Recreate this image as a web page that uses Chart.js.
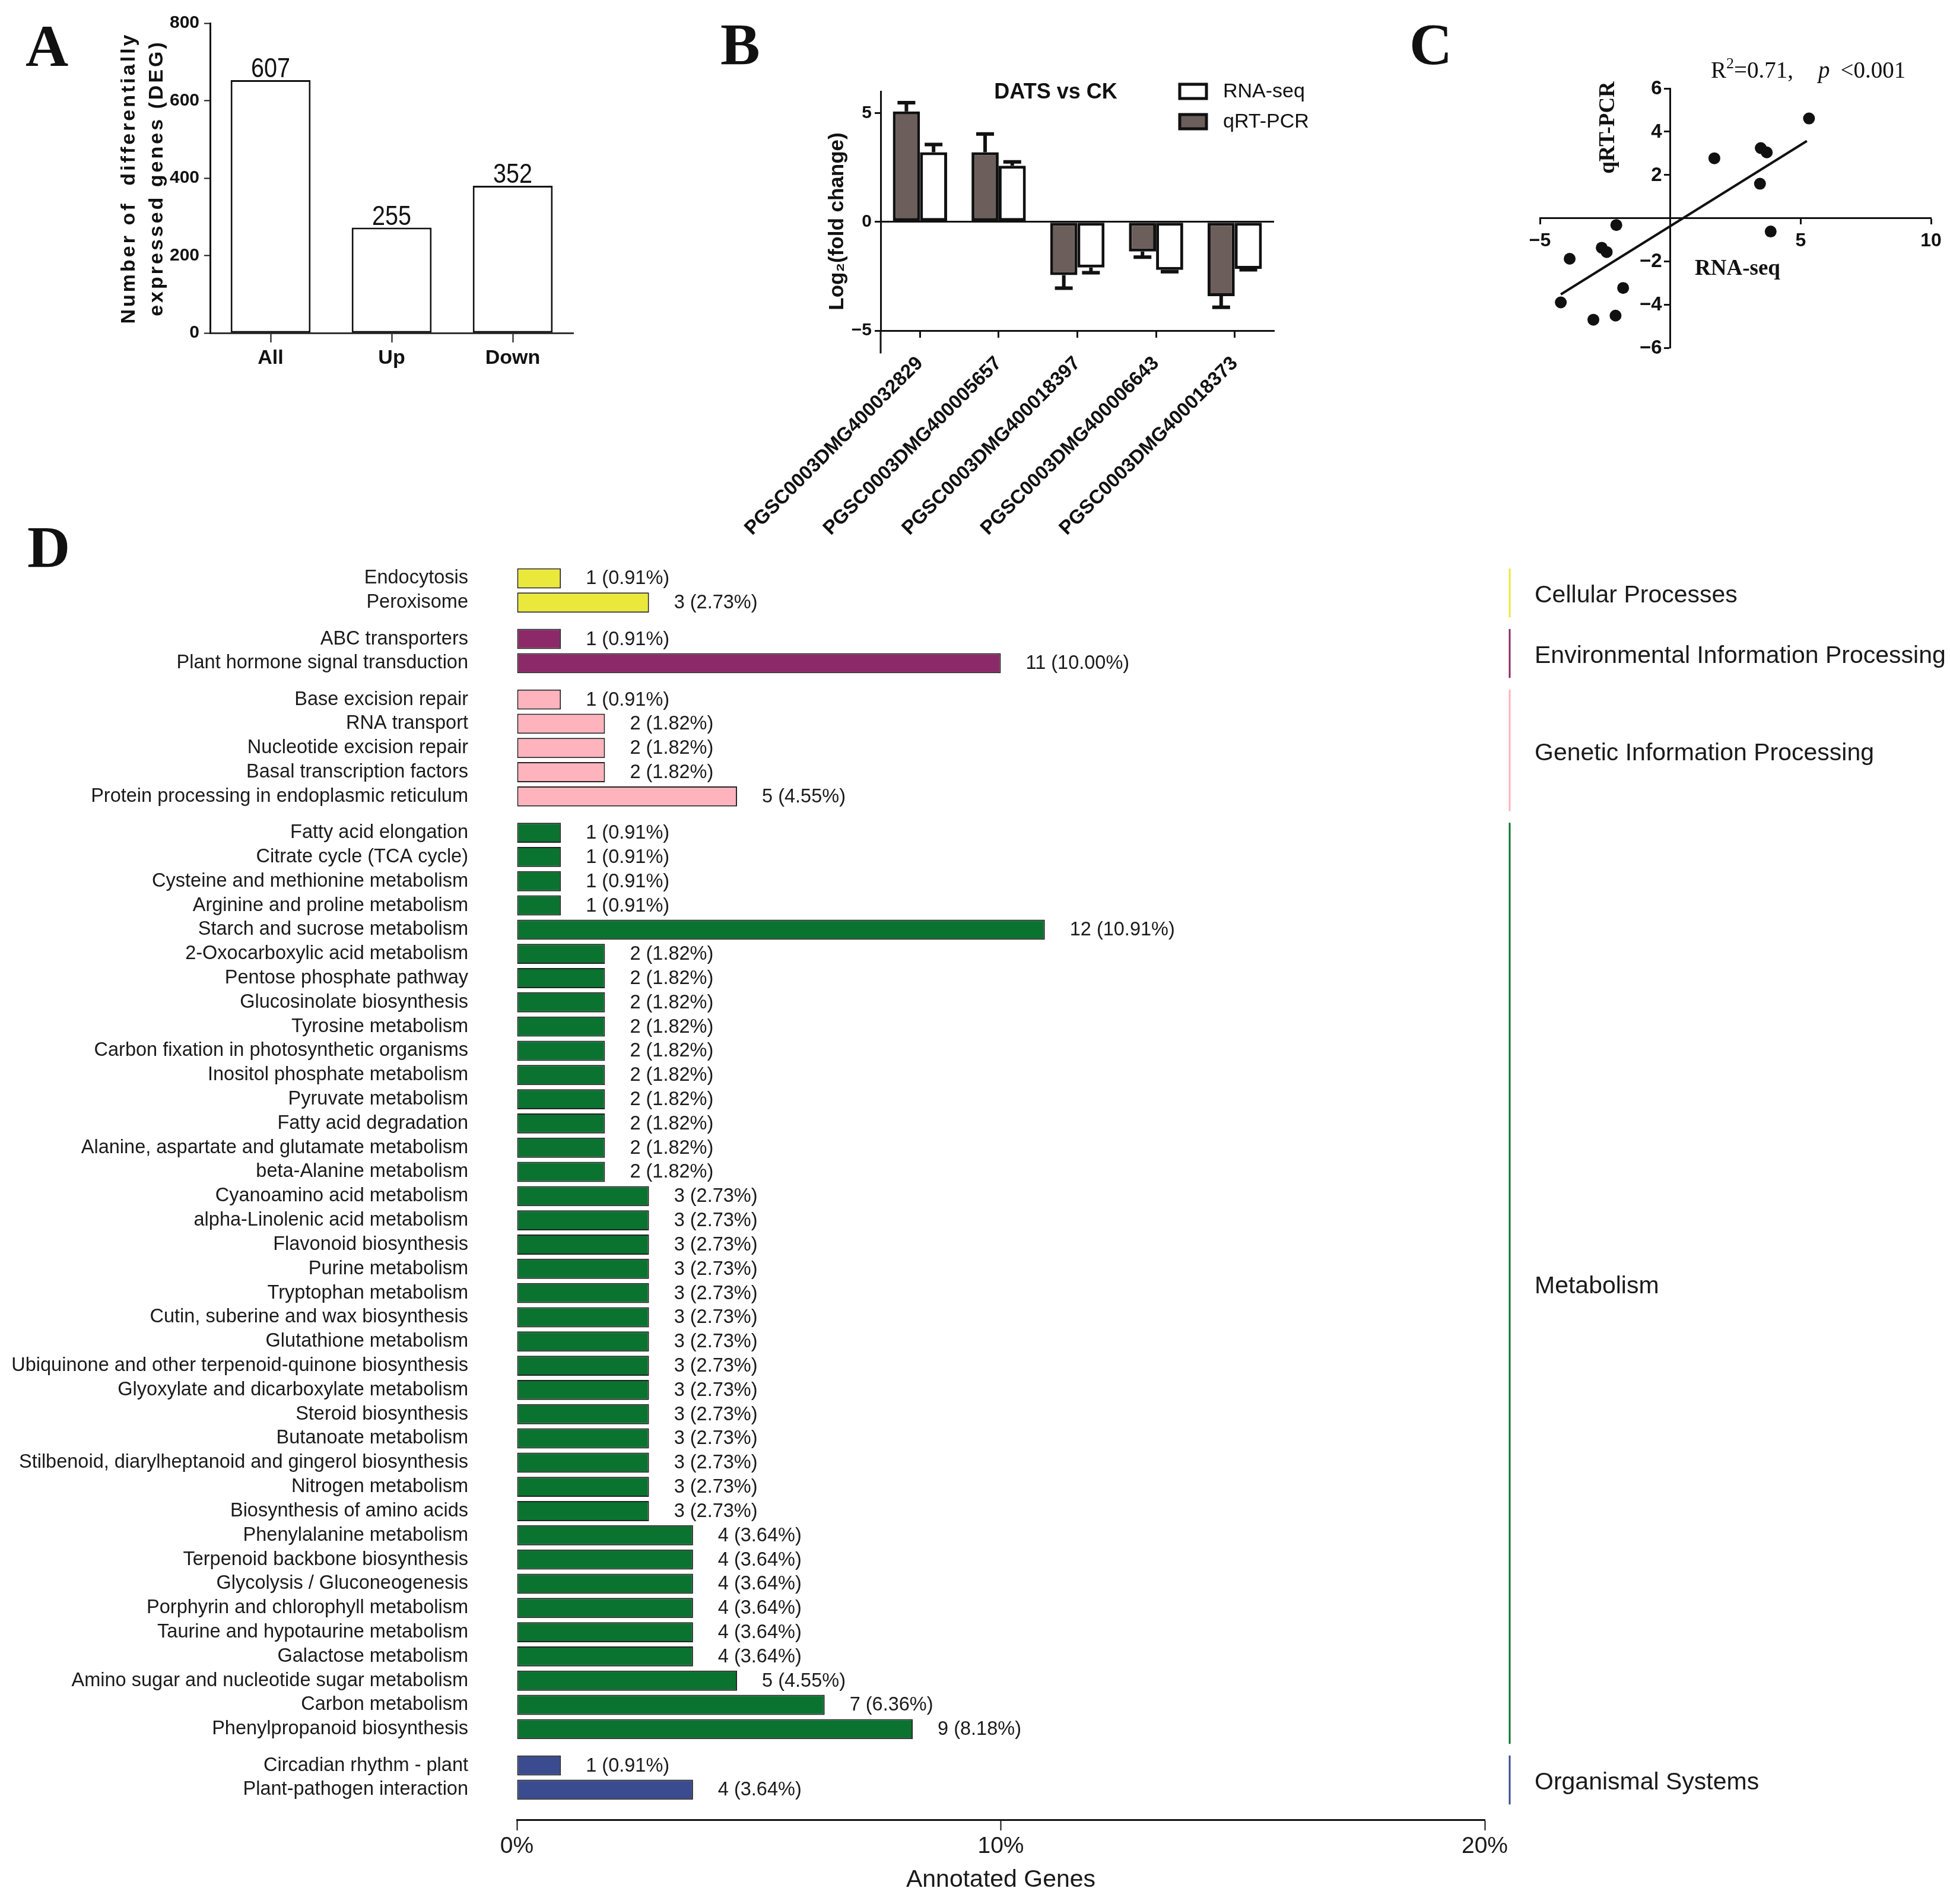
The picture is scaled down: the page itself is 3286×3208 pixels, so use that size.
<!DOCTYPE html>
<html>
<head>
<meta charset="utf-8">
<title>DEG summary, qRT-PCR validation and KEGG annotation</title>
<script src="https://cdn.jsdelivr.net/npm/chart.js"></script>
<style>
  html, body { margin: 0; padding: 0; background: #fff; }
  #page { position: relative; width: 3286px; height: 3208px; overflow: hidden; background: #fff; }
  #page canvas { position: absolute; left: 0; top: 0; }
  .panel-letter { position: absolute; font-family: 'Liberation Serif', 'Times New Roman', serif; font-weight: bold; font-size: 100px; line-height: 1; color: #111; }
  #stats { position: absolute; left: 2883px; top: 98px; font-family: 'Liberation Serif', 'Times New Roman', serif; font-size: 39px; line-height: 1; color: #111; white-space: nowrap; }
  #stats sup { font-size: 26px; vertical-align: 0; position: relative; top: -16px; }
  #stats .gap1 { margin-left: 42px; }
  #stats .gap2 { margin-left: 18px; }
</style>
</head>
<body>
<div id="page">
  <canvas id="chartA" width="3286" height="3208"></canvas>
  <canvas id="chartB" width="3286" height="3208"></canvas>
  <canvas id="chartC" width="3286" height="3208"></canvas>
  <canvas id="chartD" width="3286" height="3208"></canvas>
  <div class="panel-letter" style="left:43px;top:28px">A</div>
  <div class="panel-letter" style="left:1214px;top:25px">B</div>
  <div class="panel-letter" style="left:2375px;top:25px">C</div>
  <div class="panel-letter" style="left:46px;top:872px">D</div>
  <div id="stats">R<sup>2</sup>=0.71,<i class="gap1">p</i><span class="gap2">&lt;0.001</span></div>
</div>
<script>
// ---- panel A: number of DEGs ----
const degCategories = ['All', 'Up', 'Down'];
const degBarHeights = [653, 272, 380];     // bar tops as drawn in the figure
const degLabels = ['607', '255', '352'];    // numbers printed above the bars
const degTicks = [0, 200, 400, 600, 800];

// ---- panel B: RNA-seq vs qRT-PCR ----
const geneIds = ['PGSC0003DMG400032829', 'PGSC0003DMG400005657', 'PGSC0003DMG400018397', 'PGSC0003DMG400006643', 'PGSC0003DMG400018373'];
const qpcrFold = [5.08, 3.20, -2.45, -1.36, -3.42];
const qpcrErr = [0.40, 0.84, 0.60, 0.26, 0.51];
const rnaseqFold = [3.20, 2.58, -2.10, -2.21, -2.16];
const rnaseqErr = [0.36, 0.18, 0.24, 0.08, 0.04];
const foldTicks = [-5, 0, 5];

// ---- panel C: correlation ----
const corrRnaseq = [5.32, 3.47, 3.70, 1.69, 3.44, 3.85, -2.07, -2.63, -2.44, -3.86, -1.81, -4.20, -2.95, -2.10];
const corrQpcr = [4.61, 3.24, 3.04, 2.77, 1.59, -0.62, -0.32, -1.37, -1.57, -1.88, -3.23, -3.90, -4.70, -4.51];
const fitX = [-4.20, 5.24];
const fitY = [-3.53, 3.57];
const corrXTicks = [-5, 0, 5, 10];
const corrYTicks = [-6, -4, -2, 0, 2, 4, 6];

// ---- panel D: KEGG pathways ----
const pathwayGroups = ['Cellular Processes', 'Environmental Information Processing', 'Genetic Information Processing', 'Metabolism', 'Organismal Systems'];
const pathwayNames = [
  'Endocytosis', 'Peroxisome',
  'ABC transporters', 'Plant hormone signal transduction',
  'Base excision repair', 'RNA transport', 'Nucleotide excision repair', 'Basal transcription factors', 'Protein processing in endoplasmic reticulum',
  'Fatty acid elongation', 'Citrate cycle (TCA cycle)', 'Cysteine and methionine metabolism', 'Arginine and proline metabolism',
  'Starch and sucrose metabolism', '2-Oxocarboxylic acid metabolism', 'Pentose phosphate pathway', 'Glucosinolate biosynthesis',
  'Tyrosine metabolism', 'Carbon fixation in photosynthetic organisms', 'Inositol phosphate metabolism', 'Pyruvate metabolism',
  'Fatty acid degradation', 'Alanine, aspartate and glutamate metabolism', 'beta-Alanine metabolism', 'Cyanoamino acid metabolism',
  'alpha-Linolenic acid metabolism', 'Flavonoid biosynthesis', 'Purine metabolism', 'Tryptophan metabolism',
  'Cutin, suberine and wax biosynthesis', 'Glutathione metabolism', 'Ubiquinone and other terpenoid-quinone biosynthesis',
  'Glyoxylate and dicarboxylate metabolism', 'Steroid biosynthesis', 'Butanoate metabolism',
  'Stilbenoid, diarylheptanoid and gingerol biosynthesis', 'Nitrogen metabolism', 'Biosynthesis of amino acids',
  'Phenylalanine metabolism', 'Terpenoid backbone biosynthesis', 'Glycolysis / Gluconeogenesis', 'Porphyrin and chlorophyll metabolism',
  'Taurine and hypotaurine metabolism', 'Galactose metabolism', 'Amino sugar and nucleotide sugar metabolism', 'Carbon metabolism',
  'Phenylpropanoid biosynthesis',
  'Circadian rhythm - plant', 'Plant-pathogen interaction'
];
const pathwayGroup = [
  0, 0,
  1, 1,
  2, 2, 2, 2, 2,
  3, 3, 3, 3, 3, 3, 3, 3, 3, 3, 3, 3, 3, 3, 3, 3, 3, 3, 3, 3, 3, 3, 3, 3, 3, 3, 3, 3, 3, 3, 3, 3, 3, 3, 3, 3, 3, 3,
  4, 4
];
const pathwayCounts = [
  1, 3,
  1, 11,
  1, 2, 2, 2, 5,
  1, 1, 1, 1, 12, 2, 2, 2, 2, 2, 2, 2, 2, 2, 2,
  3, 3, 3, 3, 3, 3, 3, 3, 3, 3, 3, 3, 3, 3,
  4, 4, 4, 4, 4, 4, 5, 7, 9,
  1, 4
];
const pathwayPercents = [
  0.91, 2.73,
  0.91, 10.00,
  0.91, 1.82, 1.82, 1.82, 4.55,
  0.91, 0.91, 0.91, 0.91, 10.91, 1.82, 1.82, 1.82, 1.82, 1.82, 1.82, 1.82, 1.82, 1.82, 1.82,
  2.73, 2.73, 2.73, 2.73, 2.73, 2.73, 2.73, 2.73, 2.73, 2.73, 2.73, 2.73, 2.73, 2.73,
  3.64, 3.64, 3.64, 3.64, 3.64, 3.64, 4.55, 6.36, 8.18,
  0.91, 3.64
];
const percentTicks = [0, 10, 20];

// ---- styles ----
const W = 3286, H = 3208;
const SANS = "'Liberation Sans', Arial, Helvetica, sans-serif";
const SERIF = "'Liberation Serif', 'Times New Roman', serif";
const INK = '#111111';
const TEXT = '#1a1a1a';
const groupColors = ['#ebe83c', '#8c2a69', '#ffb3bd', '#0b7330', '#3b4b90'];
const qpcrColor = '#6b5e5b';

Chart.defaults.font.family = SANS;
Chart.defaults.color = INK;
Chart.defaults.animation = false;
Chart.defaults.responsive = false;
Chart.defaults.devicePixelRatio = 1;
Chart.defaults.events = [];
Chart.defaults.plugins.legend.display = false;
Chart.defaults.plugins.tooltip.enabled = false;

const signed = v => (v < 0 ? '\u2212' + Math.abs(v) : String(v));

function rotatedText(ctx, text, x, y) {
  ctx.save();
  ctx.translate(x, y);
  ctx.rotate(-Math.PI / 2);
  ctx.fillText(text, 0, 0);
  ctx.restore();
}

// ================= A =================
const degPlugin = {
  id: 'degText',
  afterDatasetsDraw(chart) {
    const { ctx } = chart;
    const meta = chart.getDatasetMeta(0);
    ctx.save();
    ctx.fillStyle = INK;
    ctx.font = `46px ${SANS}`;
    ctx.textAlign = 'center';
    ctx.textBaseline = 'alphabetic';
    meta.data.forEach((bar, i) => {
      // the figure uses a condensed face for the counts
      ctx.save();
      ctx.translate(bar.x, bar.y - 5);
      ctx.scale(0.86, 1);
      ctx.fillText(degLabels[i], 0, 0);
      ctx.restore();
    });
    const midY = (chart.chartArea.top + chart.chartArea.bottom) / 2;
    ctx.font = `bold 34px ${SANS}`;
    if ('letterSpacing' in ctx) ctx.letterSpacing = '4px';
    ctx.textBaseline = 'middle';
    rotatedText(ctx, 'Number of  differentially', 218, midY);
    rotatedText(ctx, 'expressed genes (DEG)', 265, midY);
    ctx.restore();
  }
};

new Chart(document.getElementById('chartA'), {
  type: 'bar',
  data: {
    labels: degCategories,
    datasets: [{
      data: degBarHeights,
      backgroundColor: '#ffffff',
      borderColor: INK,
      borderWidth: 3,
      borderSkipped: false,
      barPercentage: 0.66,
      categoryPercentage: 1
    }]
  },
  options: {
    layout: { padding: { left: 0, top: 39, right: W - 966, bottom: H - 561 - 80 } },
    scales: {
      x: {
        grid: { display: true, drawOnChartArea: false, offset: false, tickLength: 16, tickColor: INK, tickWidth: 2 },
        border: { color: '#333', width: 3 },
        ticks: { font: { size: 34, weight: 'bold' }, color: INK, padding: 6 },
        afterFit: s => { s.height = 80; }
      },
      y: {
        min: 0,
        max: 800,
        afterBuildTicks: s => { s.ticks = degTicks.map(v => ({ value: v })); },
        grid: { drawOnChartArea: false, tickLength: 10, tickColor: INK, tickWidth: 2 },
        border: { color: INK, width: 3 },
        ticks: { font: { size: 30, weight: 'bold' }, color: INK, padding: 8 },
        afterFit: s => { s.width = 354; }
      }
    }
  },
  plugins: [degPlugin]
});

// ================= B =================
const foldPlugin = {
  id: 'foldExtras',
  afterDatasetsDraw(chart) {
    const { ctx, chartArea } = chart;
    const yScale = chart.scales.y;
    ctx.save();
    ctx.strokeStyle = INK;
    ctx.lineWidth = 6;
    chart.data.datasets.forEach((ds, di) => {
      chart.getDatasetMeta(di).data.forEach((bar, i) => {
        const v = ds.data[i];
        const end = yScale.getPixelForValue(v + Math.sign(v) * ds.errors[i]);
        ctx.beginPath();
        ctx.moveTo(bar.x, bar.y);
        ctx.lineTo(bar.x, end);
        ctx.moveTo(bar.x - 15, end);
        ctx.lineTo(bar.x + 15, end);
        ctx.stroke();
      });
    });
    // y axis runs a little below the category axis
    ctx.lineWidth = 3;
    ctx.beginPath();
    ctx.moveTo(chartArea.left, chartArea.bottom);
    ctx.lineTo(chartArea.left, yScale.getPixelForValue(-6.05));
    ctx.stroke();
    ctx.restore();
  },
  afterDraw(chart) {
    const { ctx } = chart;
    ctx.save();
    ctx.fillStyle = INK;
    ctx.textBaseline = 'middle';
    ctx.textAlign = 'center';
    ctx.font = `bold 35px ${SANS}`;
    rotatedText(ctx, 'Log\u2082(fold change)', 1411, 373);
    ctx.font = `bold 36px ${SANS}`;
    ctx.fillText('DATS vs CK', 1779, 156);
    // legend, RNA-seq listed first
    const items = chart.data.datasets.slice().reverse();
    ctx.textAlign = 'left';
    ctx.font = `34px ${SANS}`;
    items.forEach((ds, k) => {
      const cy = 154 + k * 51;
      ctx.fillStyle = ds.backgroundColor;
      ctx.fillRect(1988, cy - 12, 45, 24);
      ctx.strokeStyle = INK;
      ctx.lineWidth = 5;
      ctx.strokeRect(1988, cy - 12, 45, 24);
      ctx.fillStyle = INK;
      ctx.fillText(ds.label, 2061, cy + 1);
    });
    ctx.restore();
  }
};

new Chart(document.getElementById('chartB'), {
  type: 'bar',
  data: {
    labels: geneIds,
    datasets: [
      { label: 'qRT-PCR', data: qpcrFold, errors: qpcrErr, backgroundColor: qpcrColor },
      { label: 'RNA-seq', data: rnaseqFold, errors: rnaseqErr, backgroundColor: '#ffffff' }
    ]
  },
  options: {
    datasets: { bar: { borderColor: INK, borderWidth: 5, borderSkipped: false, barPercentage: 1, categoryPercentage: 0.69 } },
    layout: { padding: { left: 1390, top: 154, right: W - 2147, bottom: H - 557 - 360 } },
    scales: {
      x: {
        grid: { display: true, drawOnChartArea: false, offset: false, tickLength: 12, tickColor: INK, tickWidth: 3 },
        border: { color: INK, width: 3 },
        ticks: { autoSkip: false, minRotation: 45, maxRotation: 45, font: { size: 33, weight: 'bold' }, color: INK, padding: 24 },
        afterFit: s => { s.height = 360; }
      },
      y: {
        min: -5,
        max: 6,
        afterBuildTicks: s => { s.ticks = foldTicks.map(v => ({ value: v })); },
        grid: {
          drawOnChartArea: true,
          color: c => (c.tick && c.tick.value === 0 ? INK : 'rgba(0,0,0,0)'),
          lineWidth: 3,
          tickLength: 10,
          tickColor: INK,
          tickWidth: 3
        },
        border: { color: INK, width: 3 },
        ticks: { font: { size: 30, weight: 'bold' }, color: INK, padding: 5, callback: v => signed(v) },
        afterFit: s => { s.width = 94; }
      }
    }
  },
  plugins: [foldPlugin]
});

// ================= C =================
const corrPlugin = {
  id: 'corrTitles',
  afterDraw(chart) {
    const { ctx } = chart;
    const xScale = chart.scales.x;
    const yScale = chart.scales.y;
    ctx.save();
    ctx.fillStyle = INK;
    // y tick labels sit left of the axis through x = 0
    ctx.font = `bold 33px ${SANS}`;
    ctx.textAlign = 'right';
    ctx.textBaseline = 'middle';
    const axisX = xScale.getPixelForValue(0);
    corrYTicks.filter(v => v !== 0).forEach(v => {
      ctx.fillText(signed(v), axisX - 14, yScale.getPixelForValue(v) + 1);
    });
    ctx.font = `bold 37px ${SERIF}`;
    ctx.textAlign = 'center';
    rotatedText(ctx, 'qRT-PCR', 2710, 215);
    ctx.textAlign = 'left';
    ctx.fillText('RNA-seq', 2856, 453);
    ctx.restore();
  }
};

new Chart(document.getElementById('chartC'), {
  type: 'scatter',
  data: {
    datasets: [
      {
        data: corrRnaseq.map((x, i) => ({ x, y: corrQpcr[i] })),
        backgroundColor: INK,
        borderWidth: 0,
        pointRadius: 10
      },
      {
        type: 'line',
        data: fitX.map((x, i) => ({ x, y: fitY[i] })),
        borderColor: INK,
        borderWidth: 4,
        pointRadius: 0,
        fill: false
      }
    ]
  },
  options: {
    layout: { padding: { left: 2595, top: 149, right: W - 3254, bottom: H - 586 } },
    scales: {
      x: {
        type: 'linear',
        position: { y: 0 },
        min: -5,
        max: 10,
        afterBuildTicks: s => { s.ticks = corrXTicks.map(v => ({ value: v })); },
        grid: { drawOnChartArea: false, tickLength: 9, tickColor: INK, tickWidth: 3 },
        border: { color: INK, width: 3 },
        ticks: { font: { size: 32, weight: 'bold' }, color: INK, padding: 10, callback: v => (v === 0 ? '' : signed(v)) }
      },
      y: {
        type: 'linear',
        position: { x: 0 },
        min: -6,
        max: 6,
        afterBuildTicks: s => { s.ticks = corrYTicks.map(v => ({ value: v })); },
        grid: { drawOnChartArea: false, tickLength: 9, tickColor: INK, tickWidth: 3 },
        border: { color: INK, width: 3 },
        ticks: { display: false }
      }
    }
  },
  plugins: [corrPlugin]
});

// ================= D =================
// row index with half a row of space between pathway groups
const rowPositions = pathwayNames.map((_, i) => i + 0.5 * pathwayGroup[i]);

const keggPlugin = {
  id: 'keggText',
  afterDatasetsDraw(chart) {
    const { ctx } = chart;
    const meta = chart.getDatasetMeta(0);
    ctx.save();
    ctx.fillStyle = TEXT;
    ctx.font = `32.5px ${SANS}`;
    ctx.textAlign = 'left';
    ctx.textBaseline = 'middle';
    meta.data.forEach((bar, i) => {
      ctx.fillText(`${pathwayCounts[i]} (${pathwayPercents[i].toFixed(2)}%)`, bar.x + 42, bar.y + 1);
    });
    ctx.restore();
  },
  afterDraw(chart) {
    const { ctx } = chart;
    const yScale = chart.scales.y;
    const rowPx = Math.abs(yScale.getPixelForValue(1) - yScale.getPixelForValue(0));
    ctx.save();
    ctx.font = `41px ${SANS}`;
    ctx.textAlign = 'left';
    ctx.textBaseline = 'middle';
    pathwayGroups.forEach((name, g) => {
      const rows = rowPositions.filter((_, i) => pathwayGroup[i] === g);
      const top = yScale.getPixelForValue(rows[0]) - 0.41 * rowPx;
      const bottom = yScale.getPixelForValue(rows[rows.length - 1]) + 0.61 * rowPx;
      ctx.strokeStyle = groupColors[g];
      ctx.lineWidth = 3;
      ctx.beginPath();
      ctx.moveTo(2544, top);
      ctx.lineTo(2544, bottom);
      ctx.stroke();
      ctx.fillStyle = TEXT;
      ctx.fillText(name, 2586, (top + bottom) / 2 + 5);
    });
    ctx.restore();
  }
};

new Chart(document.getElementById('chartD'), {
  type: 'bar',
  data: {
    datasets: [{
      data: pathwayPercents.map((p, i) => ({ x: p, y: rowPositions[i] })),
      backgroundColor: pathwayGroup.map(g => groupColors[g]),
      borderColor: '#222',
      borderWidth: 2,
      borderSkipped: false,
      barPercentage: 0.83,
      categoryPercentage: 1
    }]
  },
  options: {
    indexAxis: 'y',
    layout: { padding: { left: 0, top: 950, right: W - 2502, bottom: 0 } },
    scales: {
      y: {
        type: 'linear',
        offset: false,
        reverse: true,
        min: -0.6,
        max: 51.24,
        afterBuildTicks: s => { s.ticks = rowPositions.map(v => ({ value: v })); },
        grid: { display: false, drawTicks: false },
        border: { display: false },
        ticks: { autoSkip: false, font: { size: 32.5 }, color: TEXT, padding: 82, callback: (v, i) => pathwayNames[i] },
        afterFit: s => { s.width = 871; }
      },
      x: {
        type: 'linear',
        min: 0,
        max: 20,
        afterBuildTicks: s => { s.ticks = percentTicks.map(v => ({ value: v })); },
        grid: { drawOnChartArea: false, tickLength: 18, tickColor: INK, tickWidth: 2 },
        border: { color: INK, width: 3 },
        ticks: { font: { size: 39 }, color: TEXT, padding: 4, callback: v => v + '%' },
        title: { display: true, text: 'Annotated Genes', font: { size: 41, lineHeight: 1.2 }, color: TEXT, padding: { top: 0, bottom: 16 } },
        afterFit: s => { s.height = 142; }
      }
    }
  },
  plugins: [keggPlugin]
});
</script>
</body>
</html>
